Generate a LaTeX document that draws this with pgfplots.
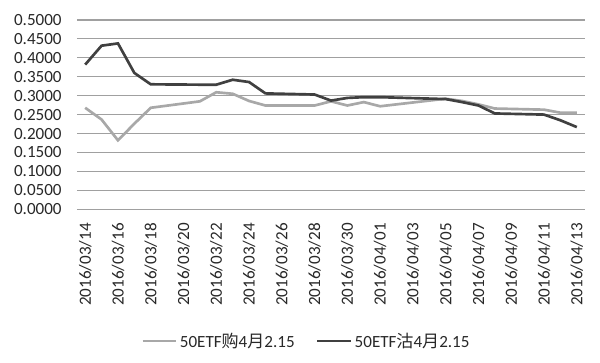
\documentclass[border=0pt]{standalone}
\usepackage{pgfplots}
\pgfplotsset{compat=1.18}
\usepackage{fontspec}
\setmainfont{Carlito}
\newfontfamily\cjk{Noto Sans CJK SC}
\definecolor{gridc}{RGB}{160,160,160}
\definecolor{darkl}{RGB}{64,64,64}
\definecolor{lightl}{RGB}{168,168,168}
\definecolor{txt}{RGB}{40,40,40}
\begin{document}
\begin{tikzpicture}
\begin{axis}[
  name=ax,
  scale only axis,
  width=381pt, height=142pt,
  xmin=-0.5, xmax=30.5,
  ymin=0, ymax=0.5,
  ytick={0,0.05,...,0.5},
  xtick={0,2,...,30},
  xticklabels={2016/03/14,2016/03/16,2016/03/18,2016/03/20,2016/03/22,2016/03/24,2016/03/26,2016/03/28,2016/03/30,2016/04/01,2016/04/03,2016/04/05,2016/04/07,2016/04/09,2016/04/11,2016/04/13},
  axis line style={draw=none},
  ymajorgrids,
  grid style={draw=gridc, line width=0.9pt},
  major tick length=0pt,
  tick label style={font=\fontsize{12.8}{15}\selectfont, text=txt},
  xticklabel style={rotate=90, anchor=east},
  xticklabel shift=7pt,
  yticklabel shift=8pt,
  yticklabel style={/pgf/number format/.cd, fixed, fixed zerofill, precision=4, assume math mode=true},
  clip=false,
  legend style={at={(0.118,-0.696)}, anchor=west, draw=none, fill=none,
    font=\fontsize{12.8}{15}\selectfont, text=txt, legend columns=2,
    /tikz/every odd column/.append style={column sep=0pt},
    /tikz/every even column/.append style={column sep=14pt},
    cells={inner xsep=2pt}},
  legend image code/.code={\draw[#1] (0pt,0pt) -- (25pt,0pt);},
]
\addplot[lightl, line width=2pt] coordinates {
(0,0.268) (1,0.237) (2,0.182) (3,0.226) (4,0.268)
(7,0.285) (8,0.309) (9,0.305) (10,0.286) (11,0.274)
(14,0.274) (15,0.285) (16,0.274) (17,0.283) (18,0.272)
(22,0.292) (23,0.286) (24,0.277) (25,0.266)
(28,0.263) (29,0.255) (30,0.255)
};
\addlegendentry{50ETF{\cjk 购}4{\cjk 月}2.15}
\addplot[darkl, line width=2pt] coordinates {
(0,0.382) (1,0.432) (2,0.438) (3,0.360) (4,0.330)
(7,0.329) (8,0.329) (9,0.342) (10,0.336) (11,0.306)
(14,0.303) (15,0.287) (16,0.294) (17,0.296) (18,0.296)
(22,0.291) (23,0.283) (24,0.274) (25,0.253)
(28,0.250) (29,0.235) (30,0.217)
};
\addlegendentry{50ETF{\cjk 沽}4{\cjk 月}2.15}
\end{axis}
\useasboundingbox ([shift={(-57.75pt,-115.3pt)}]ax.south west) rectangle ++(450pt,272.25pt);
\end{tikzpicture}
\end{document}
